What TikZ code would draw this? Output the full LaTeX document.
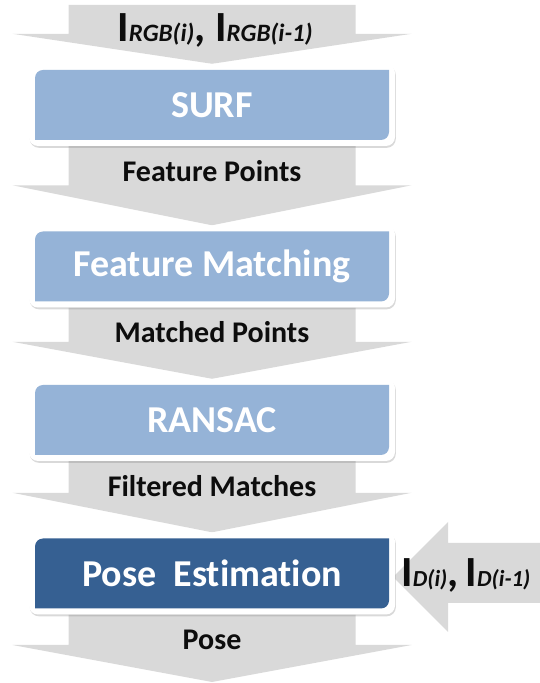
\documentclass[tikz,border=0pt]{standalone}
\usepackage{fontspec}
\setmainfont{Carlito}[Ligatures=NoCommon]
\usepackage{xcolor}
\definecolor{gray3}{RGB}{217,217,217}
\definecolor{blue3}{RGB}{149,179,215}
\definecolor{navy3}{RGB}{54,96,146}
\usepackage{tikz}
\usetikzlibrary{calc, shadows, backgrounds}

% image symbol with its subscript (optional subscript size)
\newcommand{\inimg}[2][25]{I{\fontsize{#1}{#1}\selectfont\itshape #2}}

% grey block arrow pointing down: start, tip, head length
\newcommand{\flowarrow}[3]{%
  \fill[gray3] ($(#1)+(-143.5,0)$) -- ($(#2)+(-143.5,#3)$) -- ($(#2)+(-199.5,#3)$)
    -- (#2) -- ($(#2)+(199.5,#3)$) -- ($(#2)+(143.5,#3)$) -- ($(#1)+(143.5,0)$) -- cycle;}

\begin{document}
\begin{tikzpicture}[x=1pt, y=1pt,
    stage/.style={fill=white, rounded corners=9pt, inner sep=0pt,
        minimum width=366pt, minimum height=82pt,
        drop shadow={opacity=0.3, shadow xshift=0.8pt, shadow yshift=-1.8pt},
        font=\fontsize{38}{40}\selectfont\bfseries, text=white,
        path picture={
          \fill[#1, sharp corners] let \p1=(path picture bounding box.south west),
              \p2=(path picture bounding box.north east) in
            (\x1+6,\y1+6) -- (\x1+6,\y2-14) arc[start angle=180, end angle=90, radius=8]
            -- (\x2-6,\y2-6) -- (\x2-6,\y1+14) arc[start angle=0, end angle=-90, radius=8]
            -- cycle;}},
    flowlabel/.style={font=\fontsize{30}{30}\selectfont\bfseries, text=black!95,
        anchor=base, inner sep=0pt},
    inlabel/.style={font=\fontsize{43}{43}\selectfont\bfseries, text=black!95,
        inner sep=0pt}]

\useasboundingbox (0,0) rectangle (540,683);

% Processing stages
\node[stage=blue3] (surf) at (212,578) {SURF};
\node[stage=blue3] (match) at (212,416.5) {Feature Matching};
\node[stage=blue3] (ransac) at (212,263) {RANSAC};
\node[stage=navy3] (pose) at (212,109.5) {Pose\ \ Estimation};

% Ends of the flow
\coordinate (in) at (212,678);
\coordinate (out) at (212,1);
\coordinate (din) at (540,110);

% Block arrows behind the stages
\begin{scope}[on background layer]
\flowarrow{in}{surf.north}{30}
\flowarrow{surf.south}{match.north}{40}
\flowarrow{match.south}{ransac.north}{37}
\flowarrow{ransac.south}{pose.north}{39.5}
\flowarrow{pose.south}{out}{37}
% depth images enter from the right
\fill[gray3] ($(din)+(0,30)$) -- ($(din)+(-92,30)$) -- ($(din)+(-92,51)$)
    -- ($(pose.east)+(-2,-3.5)$) -- ($(din)+(-92,-59)$) -- ($(din)+(-92,-30)$)
    -- ($(din)+(0,-30)$) -- cycle;
\end{scope}

% Inputs
\node[inlabel, anchor=base] (rgb) at ($(surf.north)+(3,22)$)
    {\inimg{RGB(i)}, \inimg{RGB(i-1)}};
\node[inlabel, anchor=base west] (depth) at ($(pose.east)+(6,-13.5)$)
    {\inimg[23]{D(i)},\hspace{0.17em}\inimg[23]{D(i-1)}};

% Data passed between stages
\node[flowlabel] (fpts) at ($(surf.south)+(0,-35)$) {Feature Points};
\node[flowlabel] (mpts) at ($(match.south)+(0,-35)$) {Matched Points};
\node[flowlabel] (fmat) at ($(ransac.south)+(0,-35)$) {Filtered Matches};
\node[flowlabel] (pout) at ($(pose.south)+(0,-35)$) {Pose};

\end{tikzpicture}
\end{document}
